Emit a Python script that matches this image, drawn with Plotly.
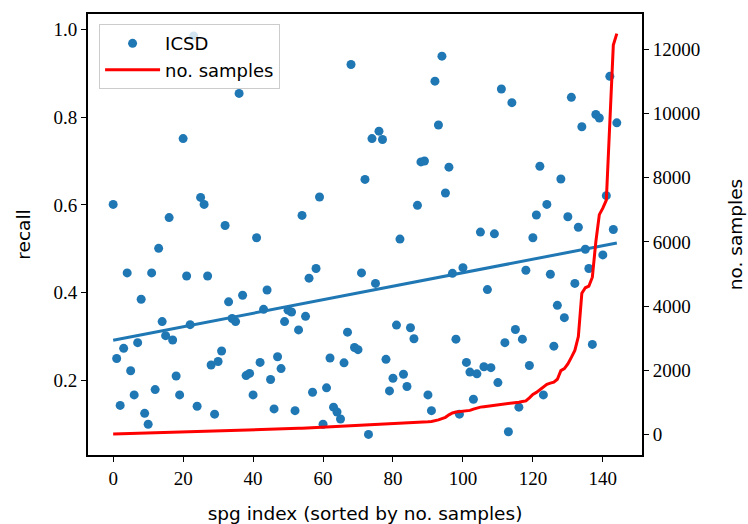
import numpy as np
import plotly.graph_objects as go
from plotly.subplots import make_subplots

spg_index = list(range(145))

recall = [
    0.601, 0.250, 0.143, 0.273, 0.445, 0.222, 0.167, 0.286, 0.385, 0.125,
    0.100, 0.445, 0.179, 0.501, 0.334, 0.302, 0.571, 0.292, 0.210, 0.167,
    0.751, 0.438, 0.327, 0.985, 0.141, 0.617, 0.601, 0.438, 0.235, 0.123,
    0.243, 0.267, 0.553, 0.379, 0.341, 0.334, 0.854, 0.394, 0.211, 0.216,
    0.167, 0.525, 0.241, 0.362, 0.406, 0.202, 0.135, 0.254, 0.227, 0.334,
    0.360, 0.356, 0.131, 0.315, 0.576, 0.346, 0.433, 0.173, 0.455, 0.618,
    0.100, 0.183, 0.251, 0.139, 0.128, 0.112, 0.240, 0.310, 0.920, 0.275,
    0.270, 0.445, 0.658, 0.077, 0.751, 0.421, 0.768, 0.749, 0.248, 0.176,
    0.205, 0.326, 0.522, 0.214, 0.186, 0.320, 0.295, 0.599, 0.698, 0.700,
    0.167, 0.131, 0.882, 0.782, 0.939, 0.627, 0.686, 0.444, 0.294, 0.123,
    0.457, 0.241, 0.219, 0.157, 0.215, 0.538, 0.231, 0.407, 0.229, 0.534,
    0.195, 0.864, 0.286, 0.083, 0.833, 0.316, 0.139, 0.294, 0.451, 0.234,
    0.525, 0.577, 0.688, 0.167, 0.601, 0.442, 0.278, 0.371, 0.659, 0.343,
    0.573, 0.845, 0.421, 0.549, 0.778, 0.499, 0.455, 0.282, 0.806, 0.798,
    0.486, 0.621, 0.893, 0.544, 0.787,
]

no_samples = [
    15, 18, 21, 24, 27, 30, 33, 36, 39, 42,
    45, 48, 51, 54, 57, 60, 63, 66, 69, 72,
    75, 78, 81, 84, 87, 90, 92, 94, 96, 98,
    100, 102, 104, 107, 110, 113, 117, 121, 125, 129,
    133, 137, 141, 145, 149, 153, 157, 161, 166, 171,
    176, 181, 186, 191, 196, 201, 207, 213, 219, 225,
    231, 237, 243, 248, 253, 258, 263, 268, 273, 278,
    283, 289, 295, 301, 307, 313, 319, 325, 331, 337,
    343, 348, 353, 358, 363, 368, 373, 378, 383, 389,
    396, 405, 425, 455, 495, 535, 610, 670, 698, 712,
    724, 738, 750, 790, 830, 852, 864, 876, 893, 908,
    920, 932, 942, 953, 970, 990, 1005, 1025, 1045, 1140,
    1250, 1310, 1400, 1480, 1560, 1600, 1630, 1720, 1990, 2050,
    2200, 2400, 2620, 3050, 4400, 4570, 4620, 4900, 6000, 6850,
    7050, 7300, 9700, 12130, 12490,
]

x_ticks = [0, 20, 40, 60, 80, 100, 120, 140]
recall_ticks = [0.2, 0.4, 0.6, 0.8, 1.0]
samples_ticks = [0, 2000, 4000, 6000, 8000, 10000, 12000]

BLUE = "#1f77b4"
RED = "#ff0000"
TICK_FONT = dict(family="Liberation Serif", size=19, color="black")
LABEL_FONT = dict(family="DejaVu Sans", size=18.5, color="black")

# linear fit of recall vs index
coef = np.polyfit(spg_index, recall, 1)
fit_x = [spg_index[0], spg_index[-1]]
fit_y = list(np.polyval(coef, fit_x))

fig = make_subplots(specs=[[{"secondary_y": True}]])

fig.add_trace(go.Scatter(
    x=spg_index, y=recall, mode="markers", name="ICSD",
    marker=dict(color=BLUE, size=9, line=dict(width=0)),
), secondary_y=False)

fig.add_trace(go.Scatter(
    x=fit_x, y=fit_y, mode="lines", showlegend=False,
    line=dict(color=BLUE, width=3),
), secondary_y=False)

fig.add_trace(go.Scatter(
    x=spg_index, y=no_samples, mode="lines", name="no. samples",
    line=dict(color=RED, width=3),
), secondary_y=True)

fig.update_layout(
    width=748, height=524,
    margin=dict(l=88, r=106, t=14, b=69, autoexpand=False),
    paper_bgcolor="white", plot_bgcolor="white",
    showlegend=True,
    legend=dict(
        x=0.02, y=0.977, xanchor="left", yanchor="top",
        bgcolor="rgba(255,255,255,0.8)", bordercolor="#cccccc", borderwidth=1,
        font=dict(family="DejaVu Sans", size=18, color="black"),
        tracegroupgap=2, itemwidth=55,
    ),
)

axis_common = dict(
    showgrid=False, zeroline=False, showline=True, linecolor="black", linewidth=1.8,
    ticks="outside", ticklen=5, tickwidth=1.3, tickcolor="black", tickfont=TICK_FONT,
    automargin=False,
)

fig.update_xaxes(
    domain=[0, 1],
    range=[-7.2, 151.2], tickvals=x_ticks, ticktext=[str(v) for v in x_ticks],
    mirror=True,
    title=dict(text="spg index (sorted by no. samples)", font=LABEL_FONT, standoff=19),
    **axis_common,
)
fig.update_yaxes(
    range=[0.030, 1.035], tickvals=recall_ticks, ticktext=[f"{v:.1f}" for v in recall_ticks],
    title=dict(text="recall", font=LABEL_FONT, standoff=18),
    secondary_y=False, **axis_common,
)
fig.update_yaxes(
    range=[-640, 13100], tickvals=samples_ticks, ticktext=[str(v) for v in samples_ticks],
    title=dict(text="no. samples", font=LABEL_FONT, standoff=30),
    secondary_y=True, **axis_common,
)

fig.write_html("out.html")
